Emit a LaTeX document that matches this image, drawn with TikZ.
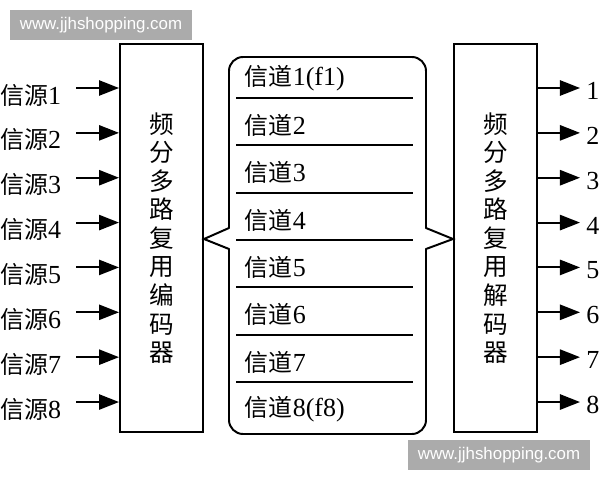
\documentclass[tikz,border=0pt]{standalone}
\usepackage{fontspec}
\setmainfont{Liberation Serif}
\newfontfamily\cjk{Noto Sans CJK SC}
\newfontfamily\wmfont{Liberation Sans}
\newcommand{\zh}[1]{{\cjk\fontsize{17}{20}\selectfont #1}}
\usetikzlibrary{arrows.meta,calc}

\begin{document}
\begin{tikzpicture}[x=0.025cm, y=-0.025cm, font=\fontsize{18.5}{21}\selectfont,
    box/.style={draw, line width=1.4pt, minimum width=2.075cm, minimum height=9.7cm, inner sep=0pt},
    boxtext/.style={align=center, font=\cjk\fontsize{17.5}{20.3}\selectfont},
    arr/.style={line width=1.4pt, -{Triangle[length=5mm, width=3.8mm]}},
    sep/.style={line width=1.4pt},
    wm/.style={fill=black!33, text=white, font=\wmfont\fontsize{12}{14}\selectfont, minimum width=4.55cm, minimum height=0.75cm, inner sep=0pt}]
    \useasboundingbox (0,0) rectangle (600,480);
    \node[box] (enc) at (161.5,238) {};
    \node[box] (dec) at (495.5,238) {};
    \node[boxtext] (enctxt) at (enc) {频\\分\\多\\路\\复\\用\\编\\码\\器};
    \node[boxtext] (dectxt) at (dec) {频\\分\\多\\路\\复\\用\\解\\码\\器};
    \draw[line width=1.4pt, line cap=round, rounded corners=10] (229,228) -- (229,57) -- (426,57) -- (426,228);
    \draw[line width=1.4pt, line cap=round, rounded corners=10] (229,249) -- (229,434) -- (426,434) -- (426,249);
    \draw[line width=1.4pt, line cap=round] (229,228) -- (enc.east |- 0,239) -- (229,249);
    \draw[line width=1.4pt, line cap=round] (426,228) -- (dec.west |- 0,239) -- (426,249);
    \foreach \k in {1,...,7} {\draw[sep] (236,{98+47.33*(\k-1)}) -- (413,{98+47.33*(\k-1)});}
    \foreach \k/\t in {1/1(f1),2/2,3/3,4/4,5/5,6/6,7/7,8/8(f8)} {\node[anchor=west] (ch\k) at (240,{78+47.33*(\k-1)}) {\zh{信道}\t};}
    \foreach \i in {1,...,8} {
        \coordinate (in\i) at (76,{88+44.86*(\i-1)});
        \node[anchor=west, inner sep=0pt] (src\i) at (0,{95+44.86*(\i-1)}) {\zh{信源}\i};
        \draw[arr] (in\i) -- (in\i -| enc.west);
        \coordinate (out\i) at (580,{88+44.86*(\i-1)});
        \draw[arr] (out\i -| dec.east) -- (out\i);
        \node[anchor=west, inner sep=0pt] (dst\i) at (586,{91+44.86*(\i-1)}) {\i};
    }
    \node[wm] (wm1) at (101,25) {www.jjhshopping.com};
    \node[wm] (wm2) at (499,455) {www.jjhshopping.com};
\end{tikzpicture}
\end{document}
